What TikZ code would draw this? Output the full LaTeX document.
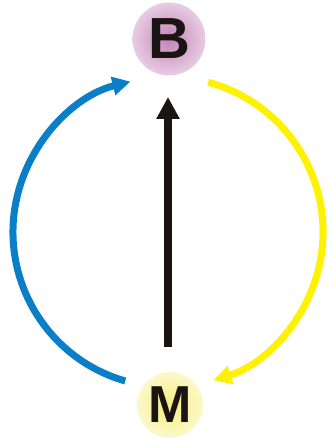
\documentclass[tikz,border=0pt]{standalone}
\usepackage{fontspec}
\setmainfont{Liberation Sans}
\usetikzlibrary{arrows.meta}
\definecolor{cblue}{HTML}{0A7FC8}
\definecolor{cyellow}{HTML}{FFF200}
\definecolor{cblack}{HTML}{1A1414}
\definecolor{pinkin}{HTML}{C283B6}
\definecolor{pinkout}{HTML}{E8CCE2}
\definecolor{yelin}{HTML}{F6EE7A}
\definecolor{yelout}{HTML}{FCF8CC}
\tikzset{
  ball/.style={circle, minimum size=#1, inner sep=0pt, font=\fontsize{58}{58}\selectfont\bfseries, text=cblack},
  cyclearrow/.style={line width=7pt, -{Triangle[length=18pt,width=18pt]}},
  mainarrow/.style={line width=8pt, cblack, -{Triangle[length=22pt,width=22pt]}}
}
\begin{document}
\begin{tikzpicture}[x=1pt,y=1pt]
\useasboundingbox (0,0) rectangle (331,438);
\node[ball=73pt, inner color=pinkin, outer color=pinkout] (B) at (169,399) {B};
\node[ball=66pt, inner color=yelin, outer color=yelout, font=\fontsize{52}{52}\selectfont\bfseries] (M) at (170,33) {M};
\coordinate (bstart) at ({168+155*cos(254)},{206+155*sin(254)});
\coordinate (ystart) at ({168+155*cos(75)},{206+155*sin(75)});
\coordinate (kstart) at (168,91);
\coordinate (kend) at (168,341);
\draw[cyclearrow, cblue] (bstart) arc[start angle=254, end angle=104, radius=155];
\draw[cyclearrow, cyellow] (ystart) arc[start angle=75, end angle=-73, radius=155];
\draw[mainarrow] (kstart) -- (kend);
\end{tikzpicture}
\end{document}
